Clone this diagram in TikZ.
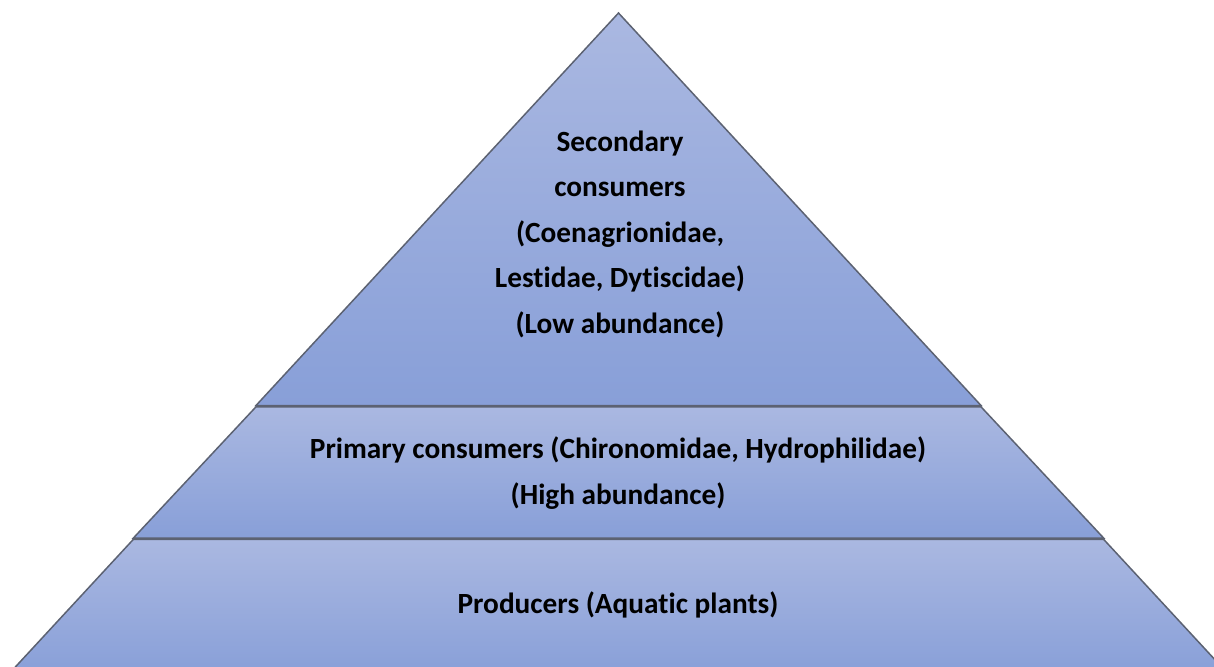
\documentclass[tikz,border=0pt]{standalone}
\usepackage{fontspec}
\setmainfont[Ligatures={NoCommon}]{Carlito}
\definecolor{tiertop}{HTML}{AAB8E1}
\definecolor{tierbot}{HTML}{889FD8}
\definecolor{edgec}{HTML}{5C6272}
\begin{document}
\begin{tikzpicture}[x=1pt,y=-1pt,
  tier/.style={top color=tiertop,bottom color=tierbot,draw=edgec,line width=1.5pt,line join=miter},
  lbl/.style={align=center,font=\fontsize{29.3}{45.5}\selectfont\bfseries,text=black,inner sep=0pt}]
\useasboundingbox (0,0) rectangle (1214,666);
\begin{scope}
\clip (0,0) rectangle (1214,666);
% top tier (triangle)
\path[tier] (618.5,13) -- (981,405.5) -- (256,405.5) -- cycle;
% middle tier
\path[tier] (256,406.8) -- (981,406.8) -- (1103.6,538) -- (133.4,538) -- cycle;
% bottom tier
\path[tier] (133.4,539.3) -- (1103.6,539.3) -- (1230,676) -- (7,676) -- cycle;
\end{scope}
\node[lbl] (sec) at (620,234) {Secondary\\consumers\\(Coenagrionidae,\\Lestidae, Dytiscidae)\\(Low abundance)};
\node[lbl] (prim) at (618,473) {Primary consumers (Chironomidae, Hydrophilidae)\\(High abundance)};
\node[lbl] (prod) at (618,605) {Producers (Aquatic plants)};
\end{tikzpicture}
\end{document}
